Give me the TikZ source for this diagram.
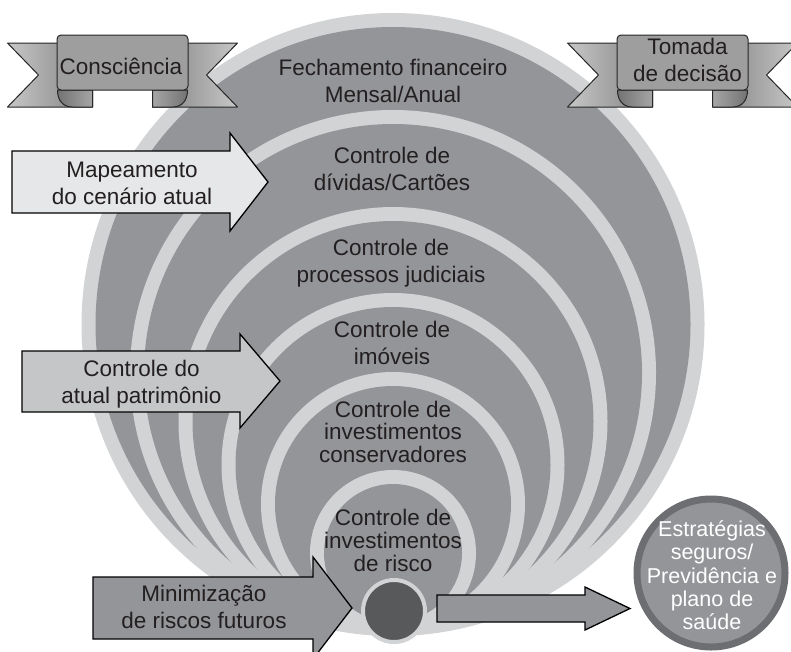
\documentclass[tikz,border=0pt]{standalone}
\usepackage{fontspec}
\setmainfont{Liberation Sans}
\definecolor{lightg}{HTML}{D1D3D4}
\definecolor{midg}{HTML}{939598}
\definecolor{darkg}{HTML}{58595B}
\definecolor{ringg}{HTML}{6D6E71}
\definecolor{arrA}{HTML}{E6E7E8}
\definecolor{arrB}{HTML}{C4C6C8}
\definecolor{arrC}{HTML}{939598}
\definecolor{txt}{HTML}{231F20}
\begin{document}
\begin{tikzpicture}[x=1pt,y=-1pt,
  lbl/.style={font=\fontsize{22.5}{27}\selectfont, align=center, inner sep=0pt, text=txt},
  lblt/.style={font=\fontsize{22.5}{22.8}\selectfont, align=center, inner sep=0pt, text=txt},
  blockarrow/.style={draw=black, line width=1.3pt, line join=miter},
  ribline/.style={draw=black!85, line width=1pt, line join=round}]
\useasboundingbox (0,0) rectangle (791,651);

% nested circles, all tangent at the bottom
\foreach \R in {311.5,263,214.5,171.5,132,83}{
  \pgfmathsetmacro\cy{636-\R}
  \pgfmathsetmacro\r{\R-14}
  \fill[lightg] (393,\cy) circle[radius=\R];
  \fill[midg] (393,\cy) circle[radius=\r];
}
\node[circle, fill=darkg, draw=lightg, line width=4pt, minimum size=62pt, inner sep=0pt] (core) at (394,611) {};

% block arrows
\draw[blockarrow, fill=arrA] (12,151) -- (230,151) -- (230,133) -- (268,182) -- (230,231) -- (230,213) -- (12,213) -- cycle;
\draw[blockarrow, fill=arrB] (22,351) -- (240,351) -- (240,334) -- (280,381) -- (240,428) -- (240,412) -- (22,412) -- cycle;
\draw[blockarrow, fill=arrC] (93,577) -- (313,577) -- (313,557) -- (352,608) -- (313,659) -- (313,639) -- (93,639) -- cycle;
\draw[blockarrow, fill=arrC] (437,595) -- (585,595) -- (585,587) -- (630,608.5) -- (585,630) -- (585,622) -- (437,622) -- cycle;

% strategy circle
\node[circle, fill=midg, draw=ringg, line width=7pt, minimum size=148pt, inner sep=0pt] (strat) at (711,573) {};

% ribbons
\foreach \cx in {122.5,682.5}{
\begin{scope}[shift={(\cx,0)}]
  \draw[ribline, left color=black!22, right color=black!50] (-115,43) -- (-30,43) -- (-30,107) -- (-115,107) -- (-84,75) -- cycle;
  \draw[ribline, left color=black!50, right color=black!22] (115,43) -- (30,43) -- (30,107) -- (115,107) -- (84,75) -- cycle;
  \draw[ribline, left color=black!55, right color=black!35] (-65,90) -- (-30,90) -- (-30,107) -- (-50,107) .. controls (-60,107) and (-65,100) .. (-65,90) -- cycle;
  \draw[ribline, left color=black!35, right color=black!55] (65,90) -- (30,90) -- (30,107) -- (50,107) .. controls (60,107) and (65,100) .. (65,90) -- cycle;
  \draw[ribline, rounded corners=4pt, left color=black!38, middle color=black!2, right color=black!38] (-65.5,35) rectangle (65.5,90);
\end{scope}
}

% texts
\node[lbl, anchor=base] (consc) at (121,74) {Consciência};
\node[lbl] (tomada) at (687.5,60.3) {Tomada\\de decisão};

\node[lbl] (fech) at (393,80.5) {Fechamento financeiro\\Mensal/Anual};
\node[lbl] (divid) at (392,168.7) {Controle de\\dívidas/Cartões};
\node[lbl] (proc) at (391,262.7) {Controle de\\processos judiciais};
\node[lbl] (imov) at (392,343.4) {Controle de\\imóveis};
\node[lblt] (cons) at (393,431.9) {Controle de\\investimentos\\conservadores};
\node[lblt] (risco) at (393,540.3) {Controle de\\investimentos\\de risco};

\node[lbl] (mapa) at (132,183.4) {Mapeamento\\do cenário atual};
\node[lbl] (patr) at (141.5,384.2) {Controle do\\atual patrimônio};
\node[lbl] (minim) at (204,607.4) {Minimização\\de riscos futuros};

\node[font=\fontsize{21.5}{23.2}\selectfont, align=center, inner sep=0pt, text=white] (stratlbl) at (712,575.2) {Estratégias\\seguros/\\Previdência e\\plano de\\saúde};
\end{tikzpicture}
\end{document}
